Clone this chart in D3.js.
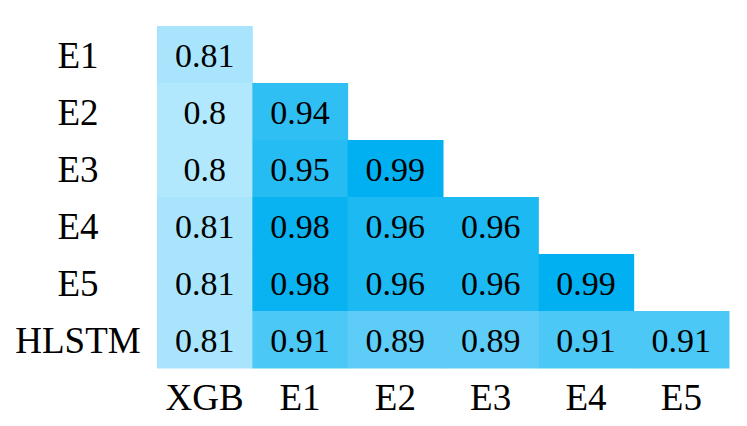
<!DOCTYPE html>
<html>
<head>
<meta charset="utf-8">
<script src="https://cdn.jsdelivr.net/npm/d3@7"></script>
</head>
<body style="margin:0">
<svg id="c" width="747" height="426"></svg>
<script>
const rowLabels = ["E1", "E2", "E3", "E4", "E5", "HLSTM"];
const colLabels = ["XGB", "E1", "E2", "E3", "E4", "E5"];
const rowE1 = [0.81];
const rowE2 = [0.8, 0.94];
const rowE3 = [0.8, 0.95, 0.99];
const rowE4 = [0.81, 0.98, 0.96, 0.96];
const rowE5 = [0.81, 0.98, 0.96, 0.96, 0.99];
const rowHLSTM = [0.81, 0.91, 0.89, 0.89, 0.91, 0.91];
const rowsValues = [rowE1, rowE2, rowE3, rowE4, rowE5, rowHLSTM];

const cells = [];
rowsValues.forEach((vals, i) => vals.forEach((v, j) => cells.push({ row: rowLabels[i], col: colLabels[j], v })));

const svg = d3.select("#c");
const x = d3.scaleBand().domain(colLabels).range([157, 729]).padding(0);
const y = d3.scaleBand().domain(rowLabels).range([26, 368]).padding(0);
const color = d3.scaleLinear().domain([0.8, 0.99]).range(["#b1e8fd", "#00b0f0"]).clamp(true);

svg.append("g").selectAll("rect").data(cells).join("rect")
  .attr("x", d => x(d.col)).attr("y", d => y(d.row))
  .attr("width", x.bandwidth() + 0.5).attr("height", y.bandwidth() + 0.5)
  .attr("fill", d => color(d.v));

svg.append("g").selectAll("text").data(cells).join("text")
  .attr("x", d => x(d.col) + x.bandwidth() / 2)
  .attr("y", d => y(d.row) + y.bandwidth() / 2 + 12.3)
  .attr("text-anchor", "middle")
  .style("font-family", '"Tinos"').style("font-size", "34px")
  .text(d => String(d.v));

// y axis labels
const gy = svg.append("g").attr("transform", "translate(78,0)")
  .call(d3.axisLeft(y).tickSize(0).tickPadding(0));
gy.select(".domain").remove();
gy.selectAll("text").attr("text-anchor", "middle").attr("dy", null)
  .attr("y", 13.3).attr("x", 0).attr("fill", "#000")
  .style("font-family", '"Tinos"').style("font-size", "37px");

// x axis labels
const gx = svg.append("g").attr("transform", "translate(0,410)")
  .call(d3.axisBottom(x).tickSize(0).tickPadding(0));
gx.select(".domain").remove();
gx.selectAll("text").attr("dy", null).attr("y", 0).attr("fill", "#000")
  .style("font-family", '"Tinos"').style("font-size", "37px");
</script>
</body>
</html>
